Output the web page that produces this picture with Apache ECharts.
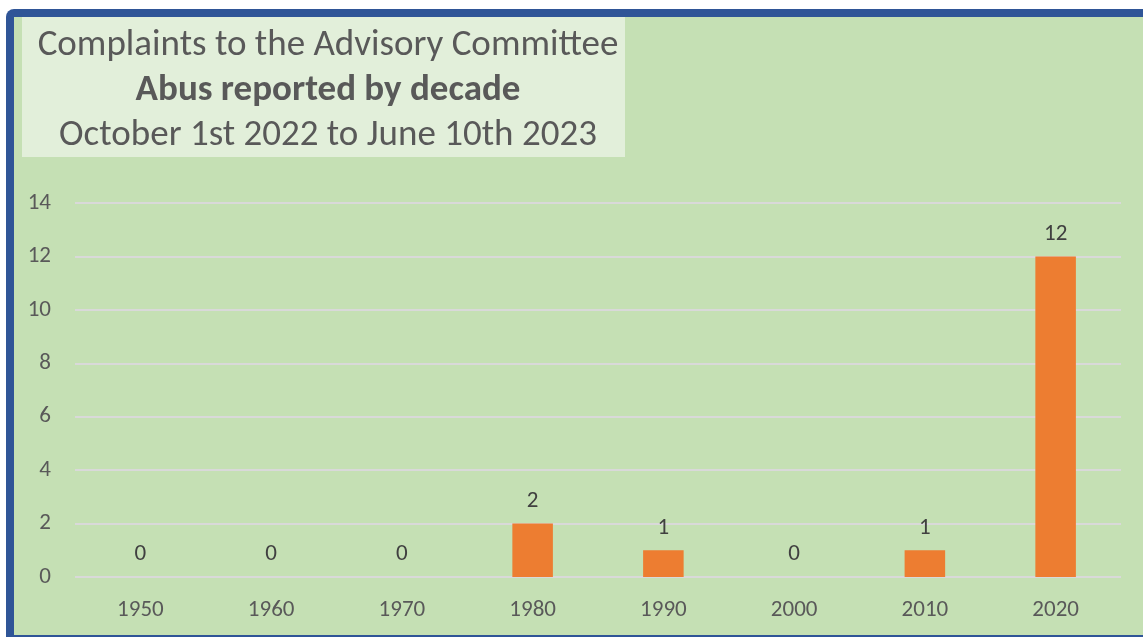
<!DOCTYPE html>
<html><head><meta charset="utf-8">
<script src="https://cdn.jsdelivr.net/npm/echarts@6/dist/echarts.min.js"></script>
<style>html,body{margin:0;padding:0;background:#fff;}#c{width:1143px;height:637px;}</style>
</head><body><div id="c"></div>
<script>
const categories = ['1950','1960','1970','1980','1990','2000','2010','2020'];
const values = [0,0,0,2,1,0,1,12];
const titleLines = ['Complaints to the Advisory Committee','Abus reported by decade','October 1st 2022 to June 10th 2023'];

const FONT = 'Carlito, "Open Sans", "Noto Sans", sans-serif';
const chart = echarts.init(document.getElementById('c'));
chart.setOption({
  animation: false,
  backgroundColor: '#ffffff',
  graphic: [
    {type:'rect', z:-10, shape:{x:6,y:9,width:1150,height:640,r:[8,0,0,0]}, style:{fill:'#2F5597'}},
    {type:'rect', z:-9, shape:{x:14,y:17,width:1140,height:618}, style:{fill:'#C5E0B4'}},
    {type:'rect', z:-8, shape:{x:22,y:17,width:603,height:140}, style:{fill:'#E2EFDA'}}
  ],
  title: [
    {text:titleLines[0], left:323, top:22, textAlign:'center', textStyle:{fontFamily:FONT, fontSize:37, fontWeight:'normal', color:'#595959'}},
    {text:titleLines[1], left:323, top:67, textAlign:'center', textStyle:{fontFamily:FONT, fontSize:37, fontWeight:'bold', color:'#595959'}},
    {text:titleLines[2], left:323, top:112, textAlign:'center', textStyle:{fontFamily:FONT, fontSize:37, fontWeight:'normal', color:'#595959'}}
  ],
  grid: {left:75, right:22, top:203, bottom:60, containLabel:false},
  xAxis: {
    type:'category', data:categories,
    axisLine:{show:false}, axisTick:{show:false},
    axisLabel:{color:'#595959', fontFamily:FONT, fontSize:23, margin:22}
  },
  yAxis: {
    type:'value', min:0, max:14, interval:2,
    axisLine:{show:false}, axisTick:{show:false},
    axisLabel:{color:'#595959', fontFamily:FONT, fontSize:23, margin:24},
    splitLine:{lineStyle:{color:'#D9D9D9', width:2}}
  },
  series: [{
    type:'bar', data:values, barWidth:'31%',
    itemStyle:{color:'#ED7D31'},
    label:{show:true, position:'top', distance:11, color:'#404040', fontFamily:FONT, fontSize:23}
  }]
});
</script></body></html>
